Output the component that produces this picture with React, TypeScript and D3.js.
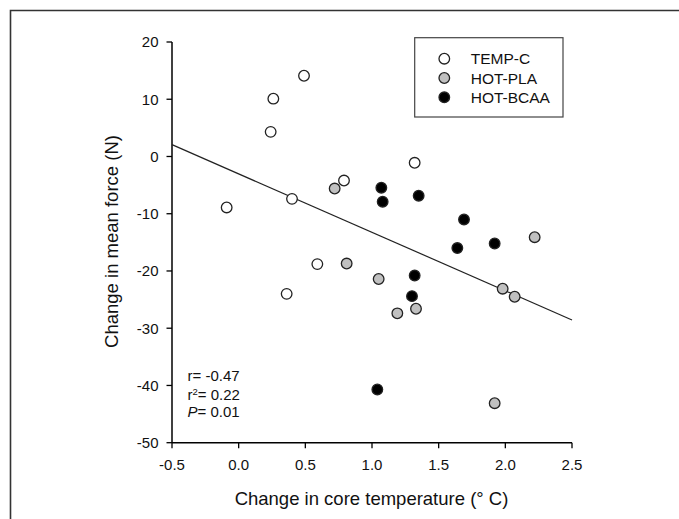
import React from "react";
import * as d3 from "d3";

// Points: [change in core temp (°C), change in mean force (N)]
const tempC: [number, number][] = [
  [0.49, 14.1],
  [0.26, 10.1],
  [0.24, 4.3],
  [-0.09, -8.9],
  [0.4, -7.4],
  [1.32, -1.1],
  [0.79, -4.2],
  [0.59, -18.8],
  [0.36, -24.0],
];

const hotPla: [number, number][] = [
  [0.72, -5.6],
  [0.81, -18.7],
  [1.05, -21.4],
  [1.19, -27.4],
  [1.33, -26.6],
  [1.98, -23.1],
  [2.07, -24.5],
  [1.92, -43.1],
  [2.22, -14.1],
];

const hotBcaa: [number, number][] = [
  [1.07, -5.45],
  [1.08, -7.9],
  [1.35, -6.85],
  [1.69, -11.0],
  [1.92, -15.2],
  [1.64, -16.0],
  [1.32, -20.8],
  [1.3, -24.4],
  [1.04, -40.7],
];

const xTicks = [-0.5, 0.0, 0.5, 1.0, 1.5, 2.0, 2.5];
const yTicks = [20, 10, 0, -10, -20, -30, -40, -50];

// regression line as drawn
const fitIntercept = -3.04;
const fitSlope = -10.21;

const seriesNames = ["TEMP-C", "HOT-PLA", "HOT-BCAA"];
const seriesFills = ["#ffffff", "#c0c0c0", "#000000"];

const W = 679;
const H = 519;
const FONT = "'Liberation Sans', Arial, Helvetica, sans-serif";

// plain hyphen for negatives, like the source figure
const fmtX = (v: number) => v.toFixed(1);
const fmtY = (v: number) => String(v);

export default function App() {
  const x = d3.scaleLinear().domain([-0.5, 2.5]).range([172, 572]);
  const y = d3.scaleLinear().domain([-50, 20]).range([442.7, 42]);

  const groups = [tempC, hotPla, hotBcaa];
  const fitLine = d3
    .line<number>()
    .x((d) => x(d))
    .y((d) => y(fitIntercept + fitSlope * d));

  const [x0, x1] = x.range();
  const [y0, y1] = y.range();

  return (
    <svg
      width={W}
      height={H}
      style={{ position: "absolute", left: 0, top: 0, background: "#fff" }}
      fontFamily={FONT}
    >
      {/* outer frame (open at right/bottom like the cropped source) */}
      <path d={`M10.5,${H} V10.5 H${W}`} fill="none" stroke="#333" strokeWidth={1.6} />

      {/* axes */}
      <line x1={x0} x2={x0} y1={y1} y2={y0} stroke="#000" strokeWidth={1.5} />
      <line x1={x0} x2={x1} y1={y0} y2={y0} stroke="#000" strokeWidth={1.5} />

      {yTicks.map((t) => (
        <g key={"y" + t}>
          <line x1={x0 - 5.5} x2={x0} y1={y(t)} y2={y(t)} stroke="#000" strokeWidth={1.3} />
          <text
            x={x0 - 13.5}
            y={y(t)}
            dy="0.36em"
            textAnchor="end"
            fontSize={15}
            fill="#111"
          >
            {fmtY(t)}
          </text>
        </g>
      ))}

      {xTicks.map((t) => (
        <g key={"x" + t}>
          <line x1={x(t)} x2={x(t)} y1={y0} y2={y0 + 5.5} stroke="#000" strokeWidth={1.3} />
          <text x={x(t)} y={469.5} textAnchor="middle" fontSize={15} fill="#111">
            {fmtX(t)}
          </text>
        </g>
      ))}

      <text x={371.5} y={505} textAnchor="middle" fontSize={18.5} fill="#111">
        Change in core temperature (° C)
      </text>
      <text
        transform={`translate(118,241.5) rotate(-90)`}
        textAnchor="middle"
        fontSize={18.5}
        fill="#111"
      >
        Change in mean force (N)
      </text>

      {/* regression line */}
      <path d={fitLine([-0.5, 2.5]) || ""} fill="none" stroke="#222" strokeWidth={1.2} />

      {/* points */}
      {groups.map((pts, gi) =>
        pts.map((p, i) => (
          <circle
            key={gi + "-" + i}
            cx={x(p[0])}
            cy={y(p[1])}
            r={5.3}
            fill={seriesFills[gi]}
            stroke="#222"
            strokeWidth={1.3}
          />
        ))
      )}

      {/* statistics */}
      <g fontSize={15} fill="#111">
        <text x={187.5} y={380.7}>r= -0.47</text>
        <text x={187.5} y={400}>
          r<tspan dy={-5.5} fontSize={9.5}>2</tspan>
          <tspan dy={5.5}>= 0.22</tspan>
        </text>
        <text x={187.5} y={416.7}>
          <tspan fontStyle="italic">P</tspan>= 0.01
        </text>
      </g>

      {/* legend */}
      <rect x={414.7} y={37.7} width={148.3} height={79.3} fill="#fff" stroke="#444" strokeWidth={1.2} />
      {seriesNames.map((name, i) => (
        <g key={name}>
          <circle
            cx={444.3}
            cy={58.7 + i * 19.3}
            r={5.3}
            fill={seriesFills[i]}
            stroke="#222"
            strokeWidth={1.3}
          />
          <text x={470.7} y={58.7 + i * 19.3} dy="0.36em" fontSize={15.5} fill="#111">
            {name}
          </text>
        </g>
      ))}
    </svg>
  );
}
